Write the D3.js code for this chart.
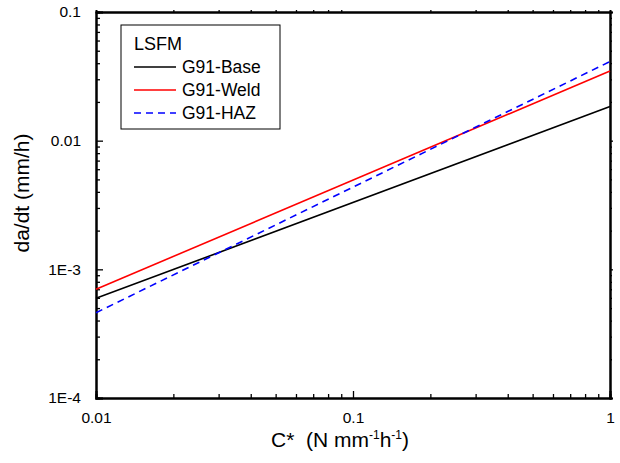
<!DOCTYPE html>
<html>
<head>
<meta charset="utf-8">
<script src="https://cdn.jsdelivr.net/npm/d3@7"></script>
<style>
  body { margin: 0; background: #fff; }
  svg { font-family: "Liberation Sans", Arial, sans-serif; }
</style>
</head>
<body>
<div id="chart"></div>
<script>
// Creep crack growth rate vs C* - straight power-law fits on log-log axes
const cStar = [0.01, 1];
const baseRate = [5.95e-4, 0.0184];
const weldRate = [7.0e-4, 0.0348];
const hazRate = [4.6e-4, 0.0412];

const seriesNames = ["G91-Base", "G91-Weld", "G91-HAZ"];
const seriesColors = ["#000000", "#ff0000", "#0000ff"];
const seriesDash = [null, null, "7,5"];
const legendTitle = "LSFM";

const xTicks = [0.01, 0.1, 1];
const xTickLabels = ["0.01", "0.1", "1"];
const yTicks = [1e-4, 1e-3, 0.01, 0.1];
const yTickLabels = ["1E-4", "1E-3", "0.01", "0.1"];

const W = 620, H = 463;
const margin = { top: 12, right: 10, bottom: 65, left: 96 };
const width = W - margin.left - margin.right,
  height = H - margin.top - margin.bottom;

const svg = d3.select("#chart")
  .append("svg")
  .attr("width", W)
  .attr("height", H);

const g = svg.append("g")
  .attr("transform", `translate(${margin.left},${margin.top})`);

const x = d3.scaleLog().domain([0.01, 1]).range([0, width]);
const y = d3.scaleLog().domain([1e-4, 0.1]).range([height, 0]);

// minor ticks 2..9 in every decade
function minors(lo, hi) {
  const out = [];
  for (let e = Math.round(Math.log10(lo)); e < Math.round(Math.log10(hi)); e++) {
    for (let k = 2; k <= 9; k++) out.push(k * Math.pow(10, e));
  }
  return out;
}
const xMinor = minors(0.01, 1);
const yMinor = minors(1e-4, 0.1);

// bottom axis - ticks pointing in
const bottomAxis = g.append("g").attr("transform", `translate(0,${height})`);
bottomAxis.call(d3.axisBottom(x).tickValues(xTicks).tickSize(-7)
  .tickFormat((d, i) => xTickLabels[i]).tickPadding(14));
bottomAxis.append("g").call(d3.axisBottom(x).tickValues(xMinor).tickSize(-4).tickFormat(""));

// left axis
const leftAxis = g.append("g");
leftAxis.call(d3.axisLeft(y).tickValues(yTicks).tickSize(-7)
  .tickFormat((d, i) => yTickLabels[i]).tickPadding(15));
leftAxis.append("g").call(d3.axisLeft(y).tickValues(yMinor).tickSize(-4).tickFormat(""));

// top axis - short ticks outward
const topAxis = g.append("g");
topAxis.call(d3.axisTop(x).tickValues(xTicks).tickSize(0).tickFormat(""));
topAxis.append("g").call(d3.axisTop(x).tickValues(xMinor).tickSize(2).tickFormat(""));

// right axis - short ticks outward
const rightAxis = g.append("g").attr("transform", `translate(${width},0)`);
rightAxis.call(d3.axisRight(y).tickValues(yTicks).tickSize(3).tickFormat(""));
rightAxis.append("g").call(d3.axisRight(y).tickValues(yMinor).tickSize(2).tickFormat(""));

g.selectAll(".domain").attr("stroke", "#000").attr("stroke-width", 2);
g.selectAll(".tick line").attr("stroke", "#000").attr("stroke-width", 1.3);
g.selectAll(".tick text").attr("fill", "#000").style("font-size", "15.5px")
  .style("font-family", "'Liberation Sans', Arial, sans-serif");

// data lines
const series = [baseRate, weldRate, hazRate];
const line = d3.line()
  .x(d => x(d[0]))
  .y(d => y(d[1]));

series.forEach((vals, i) => {
  g.append("path")
    .datum(cStar.map((c, j) => [c, vals[j]]))
    .attr("fill", "none")
    .attr("stroke", seriesColors[i])
    .attr("stroke-width", 1.6)
    .attr("stroke-dasharray", seriesDash[i])
    .attr("d", line);
});

// legend
const legend = svg.append("g").attr("transform", "translate(121,25)");
legend.append("rect")
  .attr("width", 159)
  .attr("height", 104)
  .attr("fill", "#fff")
  .attr("stroke", "#000")
  .attr("stroke-width", 1);
legend.append("text")
  .attr("x", 13)
  .attr("y", 25)
  .style("font-size", "18px")
  .text(legendTitle);
seriesNames.forEach((name, i) => {
  const ly = 42 + i * 23;
  legend.append("line")
    .attr("x1", 13).attr("x2", 55)
    .attr("y1", ly).attr("y2", ly)
    .attr("stroke", seriesColors[i])
    .attr("stroke-width", 1.6)
    .attr("stroke-dasharray", seriesDash[i]);
  legend.append("text")
    .attr("x", 61)
    .attr("y", ly + 6)
    .style("font-size", "17.5px")
    .text(name);
});

// axis titles
svg.append("text")
  .attr("transform", "translate(29,193) rotate(-90)")
  .attr("text-anchor", "middle")
  .style("font-size", "21px")
  .text("da/dt (mm/h)");

const xt = svg.append("text")
  .attr("x", 340)
  .attr("y", 447)
  .attr("text-anchor", "middle")
  .style("font-size", "21px");
xt.append("tspan").text("C*\u00A0\u00A0(N mm");
xt.append("tspan").attr("dy", -8).style("font-size", "12px").text("-1");
xt.append("tspan").attr("dy", 8).text("h");
xt.append("tspan").attr("dy", -8).style("font-size", "12px").text("-1");
xt.append("tspan").attr("dy", 8).text(")");
</script>
</body>
</html>
